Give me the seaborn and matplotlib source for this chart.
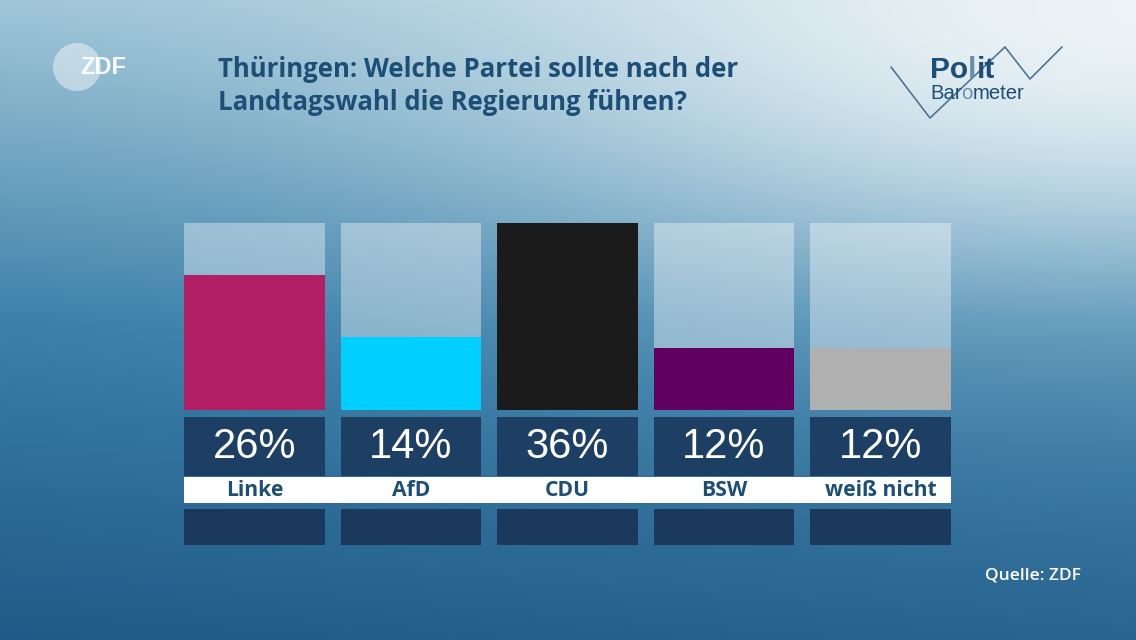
import numpy as np
import pandas as pd
import matplotlib
matplotlib.use("Agg")
import matplotlib.pyplot as plt
from matplotlib.patches import Circle
import seaborn as sns

# ---- data ----
parties = ["Linke", "AfD", "CDU", "BSW", "weiß nicht"]
values = [26, 14, 36, 12, 12]
value_labels = ["26%", "14%", "36%", "12%", "12%"]
colors = ["#b31f65", "#00d0ff", "#1b1b1b", "#620062", "#b0b0b0"]
title = "Thüringen: Welche Partei sollte nach der\nLandtagswahl die Regierung führen?"
source = "Quelle: ZDF"

sns.set_theme(style="white")
plt.rcParams["font.family"] = ["Open Sans", "DejaVu Sans"]

W, H = 1136, 640
fig = plt.figure(figsize=(W / 100, H / 100), dpi=100)

# ---- background gradient ----
bg = fig.add_axes([0, 0, 1, 1])
yy, xx = np.mgrid[0:H, 0:W]
t = yy / H
top = np.array([155, 195, 214])
mid = np.array([58, 127, 168])
bot = np.array([32, 90, 136])
t3 = t[..., None]
base = np.where(t3 < 0.5, top + (mid - top) * (t3 / 0.5), mid + (bot - mid) * ((t3 - 0.5) / 0.5))
w = np.exp(-(((xx - W) / 680.0) ** 2 + (yy / 270.0) ** 2))[..., None]
light = np.array([236, 243, 246])
img = base * (1 - w) + light * w
img = img + (xx / W)[..., None] * np.array([8, 10, 8]) * t3
bg.imshow(np.clip(img, 0, 255).astype(np.uint8), extent=[0, W, H, 0], aspect="auto")
bg.set_xlim(0, W)
bg.set_ylim(H, 0)
bg.axis("off")

LS = ["Liberation Sans", "DejaVu Sans"]

# ZDF logo
bg.add_patch(Circle((77, 67), 24, color="white", alpha=0.45, lw=0))
bg.text(103, 67, "ZDF", color="white", fontsize=17, fontweight="bold",
        ha="center", va="center", family=LS, alpha=0.95)

# Title
bg.text(218, 86, title, color="#1d4e75", fontsize=18.5, fontweight="bold",
        ha="left", va="center", linespacing=1.28)

# PolitBarometer logo
zx = [891, 930, 1005, 1030, 1062]
zy = [67, 118, 47, 79, 47]
bg.plot(zx, zy, color="#4f7494", lw=1.2)

fig.canvas.draw()
renderer = fig.canvas.get_renderer()
x0 = 930
for part, col in [("Po", "#1d4e75"), ("l", "#6a8fab"), ("it", "#1d4e75")]:
    tx = bg.text(x0, 78, part, color=col, fontsize=21.5, fontweight="bold",
                 ha="left", va="baseline", family=LS)
    ext = tx.get_window_extent(renderer)
    x0 += ext.width
bx = 930
for part, col in [("Bar", "#1d4e75"), ("o", "#6a8fab"), ("meter", "#1d4e75")]:
    tx = bg.text(bx, 99, part, color=col, fontsize=14.6, ha="left", va="baseline", family=LS)
    ext = tx.get_window_extent(renderer)
    bx += ext.width

# Source
bg.text(1081, 576, source, color="white", fontsize=12.5, fontweight="semibold",
        ha="right", va="center")

# ---- main chart axes ----
ax = fig.add_axes([184 / W, (H - 545) / H, 767 / W, (545 - 223) / H])
ax.patch.set_alpha(0)
df = pd.DataFrame({"party": parties, "value": values})
xpos = np.arange(len(parties))
bw = 0.9

# light full-height boxes
ax.bar(xpos, [36] * len(parties), width=bw, color="white", alpha=0.38, lw=0, zorder=1)

sns.barplot(data=df, x="party", y="value", hue="party", palette=colors,
            width=bw, legend=False, ax=ax, saturation=1, zorder=2, linewidth=0)

# value boxes
ax.bar(xpos, [-12.7 + 1.35] * len(parties), bottom=-1.35, width=bw,
       color="#1c3f63", lw=0, zorder=2)
# white label strip
ax.axhspan(-17.9, -12.9, xmin=0, xmax=1, color="white", lw=0, zorder=2)
# bottom boxes
ax.bar(xpos, [-26 + 19.06] * len(parties), bottom=-19.06, width=bw,
       color="#1b395d", lw=0, zorder=2)

for i, (p, vl) in enumerate(zip(parties, value_labels)):
    ax.text(i, -7.1, vl, color="white", fontsize=30, ha="center", va="center",
            family=LS, zorder=3)
    ax.text(i, -15.6, p, color="#1d4e75", fontsize=15.2, fontweight="bold",
            ha="center", va="center", zorder=3)

ax.set_xlim(-0.45, len(parties) - 0.55)
ax.set_ylim(-26, 36)
ax.axis("off")

fig.savefig("out.png", dpi=100)
